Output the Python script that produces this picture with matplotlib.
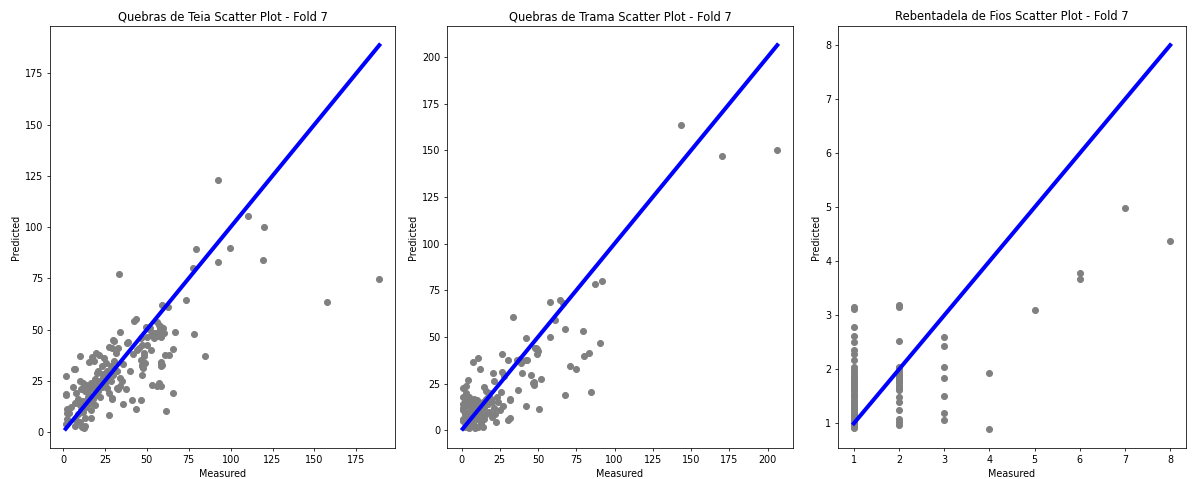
import numpy as np
import matplotlib
matplotlib.use("Agg")
import matplotlib.pyplot as plt
from matplotlib.ticker import MultipleLocator

# Quebras de Teia: (measured, predicted)
teia = np.array([
    (92.5, 122.8), (110.5, 105.4), (120.2, 99.8), (79.4, 89.5), (99.4, 89.8),
    (92.5, 82.8), (119.6, 83.8), (33.3, 77.2), (77.6, 80.1), (188.7, 74.8),
    (157.4, 63.5), (73.5, 64.6), (58.9, 62.2), (62.7, 60.8), (43.3, 55.1),
    (42.3, 54.2), (34.3, 49.0), (66.7, 49.0), (78.2, 48.0), (57.0, 52.0),
    (58.0, 50.5), (59.0, 48.5), (56.0, 47.0), (52.0, 51.0), (53.0, 48.0),
    (54.0, 46.0), (30.0, 45.0), (49.6, 51.4), (51.2, 50.1), (56.2, 53.8),
    (58.3, 51.4), (59.9, 50.6), (54.2, 48.2), (52.2, 47.4), (50.2, 46.6),
    (38.7, 43.7), (46.3, 45.8), (30.4, 44.5), (27.4, 41.7), (29.4, 41.0),
    (32.7, 41.0), (31.4, 38.5), (52.2, 40.1), (48.2, 36.9), (46.3, 35.3),
    (47.3, 32.9), (47.3, 28.0), (9.9, 37.2), (7.1, 30.8), (1.6, 27.2),
    (1.6, 17.9), (2.2, 9.5), (2.6, 6.3), (28.4, 32.0), (30.4, 34.5),
    (34.0, 26.5), (37.3, 21.1), (32.7, 20.8), (29.0, 16.8), (35.9, 13.5),
    (41.3, 15.6), (46.3, 15.6), (43.3, 11.5), (27.4, 8.2), (16.9, 7.1),
    (11.5, 2.3), (53.2, 23.2), (56.2, 22.4), (58.2, 22.7), (58.6, 32.4),
    (58.6, 33.7), (65.7, 19.2), (61.5, 10.3), (65.7, 40.5), (61.1, 37.7),
    (84.5, 37.2), (47.6, 31.3), (38.3, 43.4), (19.5, 38.5), (21.4, 37.7),
    (17.5, 36.6), (15.5, 34.0), (18.5, 34.5), (24.4, 36.1), (25.4, 33.7),
    (23.5, 32.1), (21.0, 30.0), (24.0, 28.5), (20.0, 29.0), (6.5, 30.8),
    (28.4, 24.8), (26.4, 21.6), (27.4, 19.2), (32.4, 21.6), (34.3, 22.4),
    (29.4, 16.3), (1.6, 18.4), (2.6, 11.1), (3.6, 9.5), (1.6, 3.9),
    (12.5, 1.8), (10.0, 25.0), (12.0, 24.0), (14.0, 23.0), (11.0, 21.0),
    (13.0, 20.0), (16.0, 22.0), (15.0, 19.0), (18.0, 21.0), (17.0, 24.0),
    (19.0, 26.0), (20.0, 23.0), (22.0, 25.0), (21.0, 20.0), (23.0, 22.0),
    (25.0, 24.0), (24.0, 27.0), (8.0, 19.0), (9.0, 16.0), (7.0, 14.0),
    (10.0, 13.0), (12.0, 15.0), (11.0, 11.0), (9.0, 9.0), (8.0, 6.0),
    (10.0, 5.0), (13.0, 7.0), (12.0, 10.0), (14.0, 12.0), (15.0, 17.0),
    (16.0, 14.0), (17.0, 11.0), (18.0, 16.0), (20.0, 18.0), (22.0, 17.0),
    (6.0, 22.0), (5.0, 12.0), (7.0, 3.0), (13.0, 3.0), (19.0, 13.0),
    (25.0, 28.0), (26.0, 30.0), (27.0, 26.0), (30.0, 28.0), (32.0, 30.0),
    (35.0, 25.0), (36.0, 33.0), (40.0, 30.0), (42.0, 38.0), (44.0, 40.0),
    (58.2, 46.6), (60.2, 48.2), (55.2, 48.2), (50.2, 42.6), (47.3, 42.6),
    (45.3, 41.0), (48.2, 38.5), (48.8, 33.7), (47.3, 32.0), (58.2, 34.0),
    (59.2, 32.9), (63.1, 37.7), (57.1, 24.0),
])

# Quebras de Trama
trama = np.array([
    (143.6, 163.5), (170.1, 146.8), (206.3, 150.4), (86.9, 78.2), (91.9, 79.8),
    (33.5, 60.6), (57.7, 68.5), (64.5, 69.8), (66.2, 68.2), (61.4, 58.9),
    (67.8, 54.4), (79.7, 53.4), (57.7, 50.2), (42.3, 49.3), (90.8, 46.6),
    (47.7, 44.3), (49.5, 43.5), (48.8, 44.3), (49.9, 42.6), (49.5, 40.8),
    (83.2, 41.3), (80.0, 39.9), (26.3, 40.8), (36.4, 37.6), (30.3, 37.8),
    (42.3, 37.8), (7.4, 36.7), (11.1, 38.7), (12.4, 33.1), (39.7, 30.5),
    (45.4, 29.6), (47.1, 25.7), (47.1, 24.5), (52.1, 27.5), (70.6, 34.6),
    (75.0, 33.1), (20.5, 30.7), (26.6, 31.4), (21.1, 26.6), (14.6, 23.0),
    (16.1, 21.3), (31.4, 16.9), (37.1, 21.8), (42.3, 12.9), (50.5, 11.5),
    (67.8, 19.1), (84.8, 20.7), (0.8, 22.7), (3.1, 23.9), (4.1, 27.0),
    (39.0, 36.3), (37.9, 38.1), (42.7, 37.6), (27.7, 29.3), (46.6, 25.2),
    (25.9, 20.4), (31.4, 16.5), (22.7, 4.4), (31.4, 6.8), (30.3, 5.7),
    (1.0, 18.0), (2.0, 15.0), (3.0, 13.0), (1.0, 11.0), (2.0, 9.0),
    (3.0, 7.0), (1.0, 5.0), (4.0, 3.0), (2.0, 2.0), (5.0, 1.0),
    (6.0, 4.0), (7.0, 6.0), (8.0, 9.0), (9.0, 12.0), (10.0, 14.0),
    (11.0, 10.0), (12.0, 8.0), (5.0, 10.0), (6.0, 13.0), (4.0, 16.0),
    (7.0, 15.0), (8.0, 17.0), (10.0, 16.0), (12.0, 13.0), (13.0, 11.0),
    (14.0, 15.0), (15.0, 12.0), (16.0, 9.0), (18.0, 10.0), (17.0, 14.0),
    (19.0, 17.0), (20.0, 15.0), (15.0, 6.0), (13.0, 4.0), (11.0, 2.0),
    (9.0, 1.0), (8.0, 3.0), (6.0, 8.0), (10.0, 6.0), (14.0, 2.0),
    (17.0, 18.0), (18.0, 20.0), (21.0, 12.0), (22.0, 9.0), (24.0, 15.0),
    (25.0, 11.0), (27.0, 13.0), (20.0, 7.0), (23.0, 18.0), (16.0, 17.0),
    (3.0, 20.0), (5.0, 18.0), (0.9, 12.0), (0.9, 6.0), (1.0, 14.0),
    (2.0, 18.0), (7.0, 11.0),
])

# Rebentadela de Fios
fios_x1 = [3.16, 3.11, 2.79, 2.61, 2.50, 2.35, 2.28, 2.17, 2.04, 1.98, 1.93,
           1.88, 1.84, 1.80, 1.76, 1.71, 1.68, 1.64, 1.60, 1.55, 1.52, 1.48,
           1.44, 1.40, 1.36, 1.31, 1.28, 1.24, 1.20, 1.16, 1.12, 1.08, 1.04,
           1.00, 0.97, 0.94, 0.91]
fios_x2 = [3.19, 3.16, 2.52, 2.05, 2.00, 1.95, 1.90, 1.86, 1.82, 1.78, 1.74,
           1.70, 1.66, 1.61, 1.49, 1.40, 1.24, 1.09, 1.03, 0.97]
fios_x3 = [2.60, 2.44, 2.05, 1.84, 1.50, 1.19, 1.07]
fios_rest_x = [4, 4, 5, 6, 6, 7, 8]
fios_rest_y = [1.93, 0.90, 3.09, 3.79, 3.68, 4.99, 4.37]

fios_meas = [1] * len(fios_x1) + [2] * len(fios_x2) + [3] * len(fios_x3) + fios_rest_x
fios_pred = fios_x1 + fios_x2 + fios_x3 + fios_rest_y

titles = ["Quebras de Teia Scatter Plot - Fold 7",
          "Quebras de Trama Scatter Plot - Fold 7",
          "Rebentadela de Fios Scatter Plot - Fold 7"]
tick_steps = [25, 25, 1]

W, H = 1192, 479
dpi = 69
fig = plt.figure(figsize=(W / dpi, H / dpi), dpi=dpi)

boxes = [(50, 395), (447, 793), (838, 1186)]
top, bottom = 26, 448

series = [(teia[:, 0], teia[:, 1]), (trama[:, 0], trama[:, 1]),
          (np.array(fios_meas), np.array(fios_pred))]

for (l, r), (meas, pred), title, step in zip(boxes, series, titles, tick_steps):
    ax = fig.add_axes([l / W, 1 - bottom / H, (r - l) / W, (bottom - top) / H])
    ax.scatter(meas, pred, color='gray', s=40)
    lo, hi = meas.min(), meas.max()
    ax.plot([lo, hi], [lo, hi], color='blue', lw=4.2)
    ax.xaxis.set_major_locator(MultipleLocator(step))
    ax.yaxis.set_major_locator(MultipleLocator(step))
    ax.set_title(title)
    ax.set_xlabel('Measured')
    ax.set_ylabel('Predicted')

fig.savefig('out.png', dpi=dpi)
